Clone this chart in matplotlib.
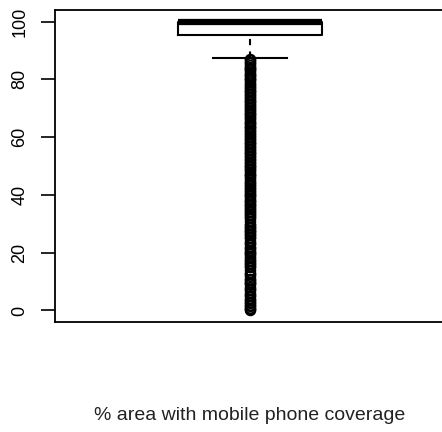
import matplotlib
matplotlib.use('Agg')
import matplotlib.pyplot as plt

# Summary stats (% area with mobile phone coverage)
q1 = 95.2
median = 100.0
q3 = 100.0
whisker_low = 87.5
whisker_high = 100.0

# Outliers below the lower whisker (the column is almost solid)
outliers = [
    87.0, 86.6, 86.1, 85.5, 85.0, 84.4, 84.0, 83.5, 83.1, 82.5, 82.0, 81.4,
    81.0, 80.5, 80.0, 79.6, 79.0, 78.5, 78.1, 77.5, 77.0, 76.4, 76.0, 75.5,
    75.0, 74.6, 74.0, 73.5, 73.0, 72.4, 72.0, 71.5, 71.0, 70.5, 70.0, 69.4,
    69.0, 68.5, 68.0, 67.6, 67.0, 66.5, 66.0, 65.4, 65.0, 64.5, 64.0, 63.5,
    63.0, 62.5, 62.0, 61.4, 61.0, 60.5, 60.0, 59.5, 59.0, 58.4, 58.0, 57.5,
    57.0, 56.5, 56.0, 55.5, 55.0, 54.4, 54.0, 53.5, 53.0, 52.5, 52.0, 51.4,
    51.0, 50.5, 50.0, 49.5, 49.0, 48.5, 48.0, 47.4, 47.0, 46.5, 46.0, 45.0,
    44.5, 44.0, 43.4, 43.0, 42.5, 42.0, 41.5, 41.0, 40.4, 40.0, 39.5, 39.0,
    38.4, 38.0, 37.5, 37.0, 36.5, 36.0, 35.4, 35.0, 34.5, 34.0, 33.5, 33.0,
    32.4, 32.0, 30.8, 30.0, 29.5, 29.0, 28.4, 28.0, 27.5, 27.0, 26.4, 26.0,
    25.5, 25.0, 24.0, 23.5, 23.0, 22.0, 21.5, 21.0, 20.4, 20.0, 19.5, 19.0,
    18.0, 17.5, 17.0, 16.4, 16.0, 15.5, 15.0, 14.0, 13.0, 12.5, 12.0, 11.0,
    10.5, 10.0, 9.5, 9.0, 8.0, 7.5, 7.0, 6.0, 5.5, 5.0, 4.0, 3.5,
    3.0, 2.5, 2.0, 1.5, 1.0, 0.5, 0.0,
]
xlabel = '% area with mobile phone coverage'
yticks = [0, 20, 40, 60, 80, 100]

fig = plt.figure(figsize=(4.42, 4.32), dpi=100)
ax = fig.add_axes([55 / 442, 1 - 322 / 432, 390 / 442, 312 / 432])

stats = [dict(med=median, q1=q1, q3=q3, whislo=whisker_low, whishi=whisker_high,
              fliers=outliers)]
ax.bxp(stats, positions=[1], widths=0.37, showfliers=True,
       boxprops=dict(color='black', lw=1.5),
       medianprops=dict(color='black', lw=4.5, solid_capstyle='butt'),
       whiskerprops=dict(color='black', lw=1.5, linestyle=(4.1, (3, 3))),
       capprops=dict(color='black', lw=1.5),
       capwidths=0.19,
       flierprops=dict(marker='o', markerfacecolor='none', markeredgecolor='black',
                       markersize=7, markeredgewidth=1.3))

ax.set_xlim(0.5, 1.5)
ax.set_ylim(-4, 104)
ax.set_xticks([])
ax.set_yticks(yticks)
ax.set_yticklabels([])
ax.tick_params(axis='y', length=10, width=1.2)
for s in ax.spines.values():
    s.set_linewidth(1.3)

# R-style tick labels, parallel to the axis
for t in yticks:
    ax.text(-0.09, t, str(t), transform=ax.get_yaxis_transform(),
            rotation=90, ha='center', va='center',
            family='Liberation Sans', fontsize=13)

fig.text(250 / 442, 1 - 415 / 432, xlabel, ha='center', va='center',
         family='Liberation Sans', fontsize=14, color='#222222')

fig.savefig('out.png', dpi=100)
